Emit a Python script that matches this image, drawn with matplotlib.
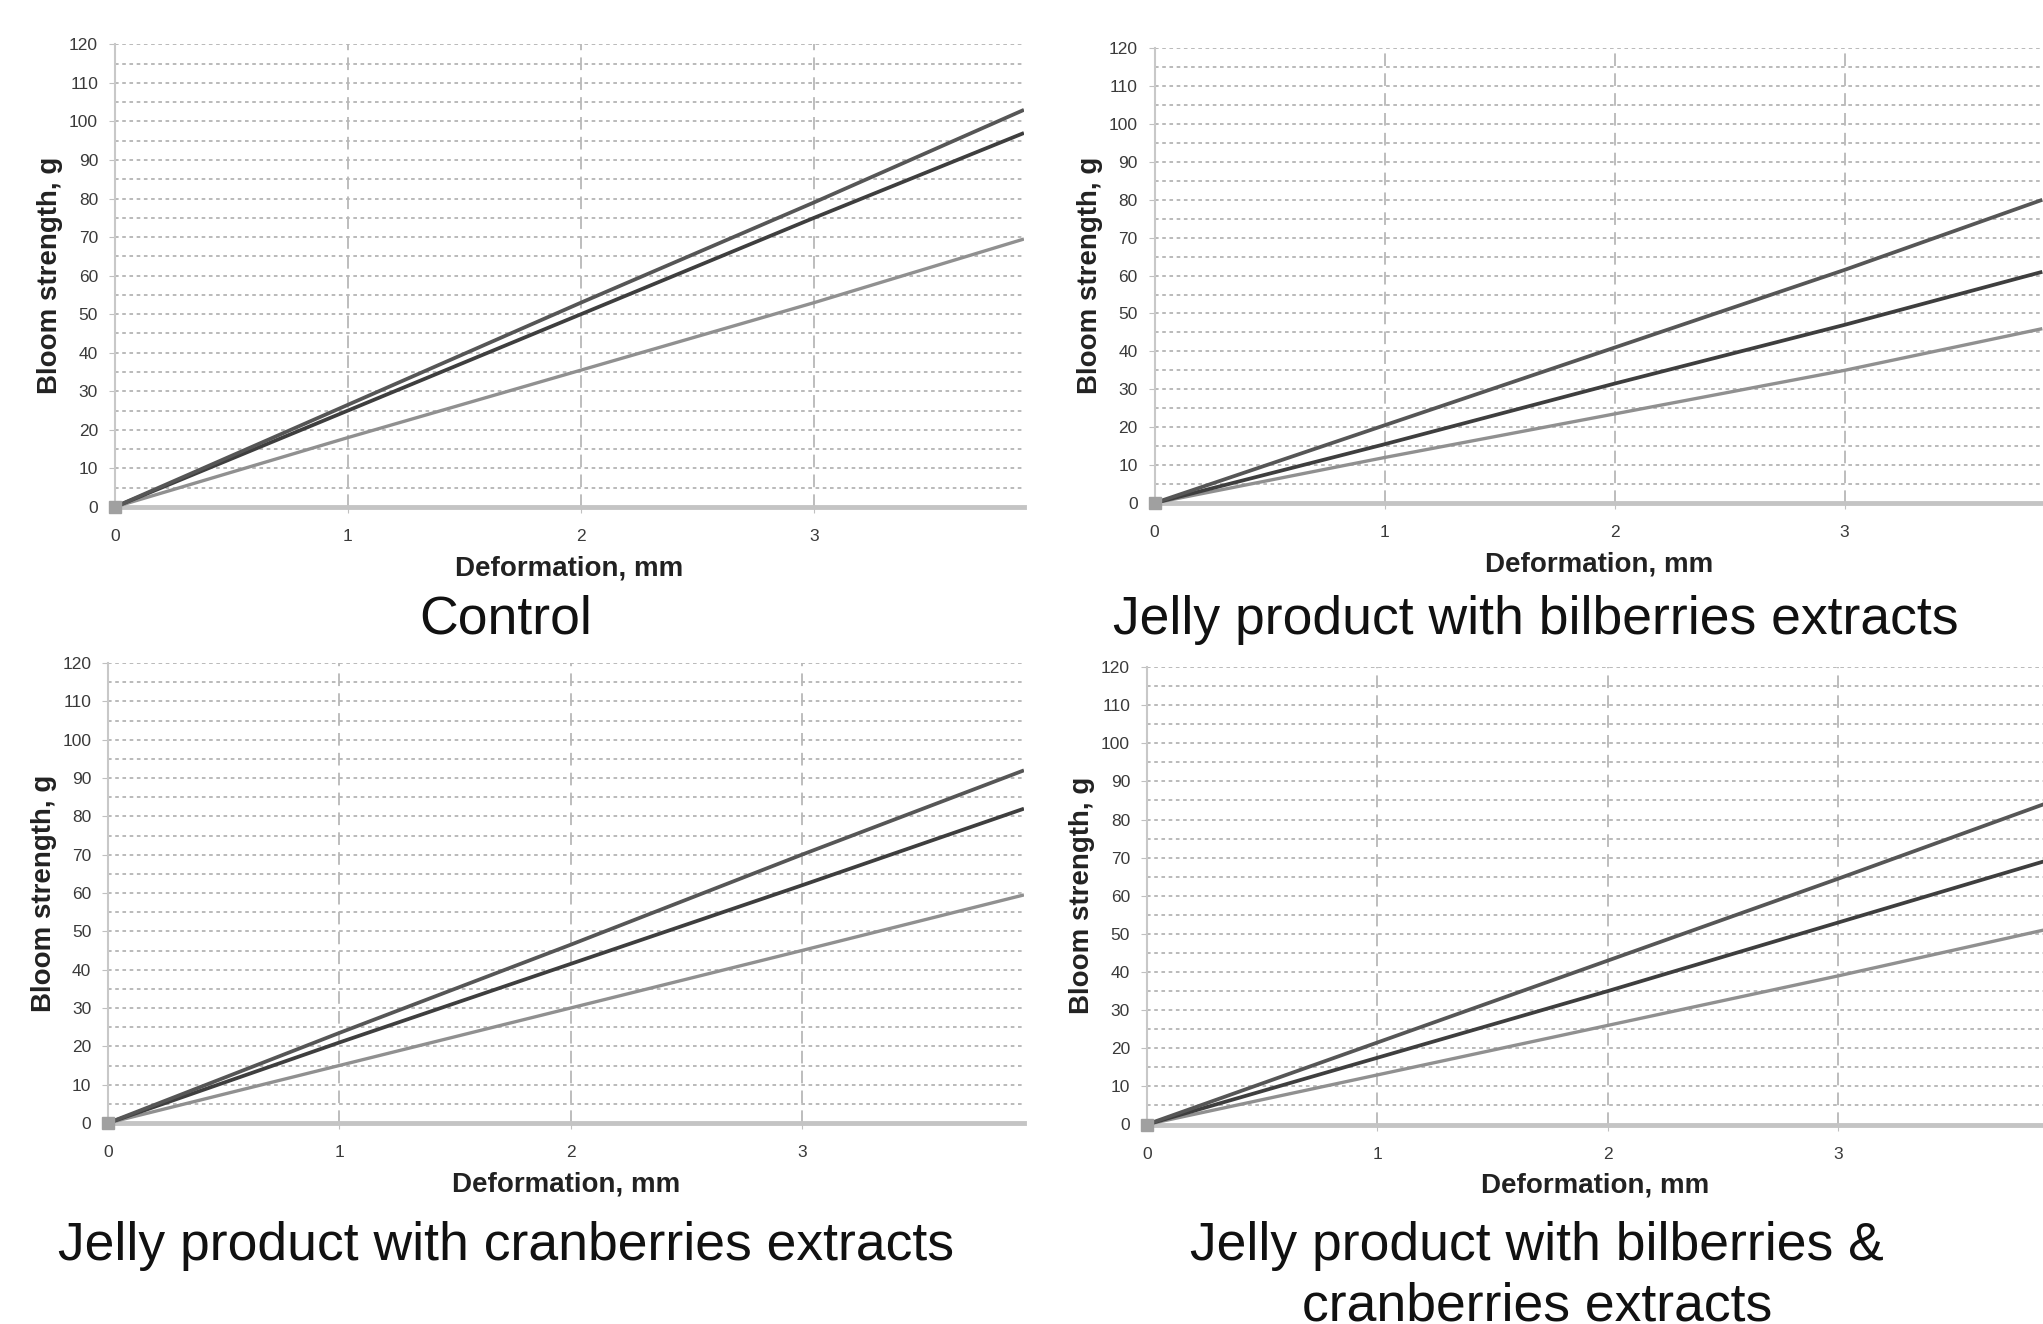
import matplotlib
matplotlib.use("Agg")
import matplotlib.pyplot as plt
from matplotlib import font_manager as fm
import numpy as np

# ---------------- data ----------------
titles = ["Control",
          "Jelly product with bilberries extracts",
          "Jelly product with cranberries extracts",
          "Jelly product with bilberries &\ncranberries extracts"]

control_x = [0, 1, 2, 3, 3.9]
control_top = [0, 26.5, 53, 79, 103]
control_mid = [0, 25, 50, 75, 97]
control_low = [0, 18, 35.5, 53, 69.5]

bil_x = [0, 1, 2, 3, 3.86]
bil_top = [0, 20.5, 41, 61.5, 80]
bil_mid = [0, 15.5, 31.5, 47, 61]
bil_low = [0, 12, 23.5, 35, 46]

cran_x = [0, 1, 2, 3, 3.96]
cran_top = [0, 23.5, 46.5, 70, 92]
cran_mid = [0, 21, 41.5, 62, 82]
cran_low = [0, 15, 30, 45, 59.5]

both_x = [0, 1, 2, 3, 3.89]
both_top = [0, 21.5, 43, 64.5, 84]
both_mid = [0, 17.5, 35, 53, 69]
both_low = [0, 13, 26, 39, 51]

xticks = [0, 1, 2, 3]
yticks = list(range(0, 121, 10))

# ---------------- fonts ----------------
avail = {f.name for f in fm.fontManager.ttflist}
narrow = "Liberation Sans Narrow" if "Liberation Sans Narrow" in avail else "Liberation Sans"
regular = "Liberation Sans"

W, H = 2043, 1324
fig = plt.figure(figsize=(W / 100, H / 100), dpi=100)
fig.patch.set_facecolor("white")

# axes rectangles in pixels: (left, right, y_of_0, y_of_120), xmax
rects = [
    (114.7, 2043 * 0.5012, 507, 44.3, 3.90),
    (1154.5, 2043, 503, 48.2, 3.863),
    (108, 2043 * 0.5012, 1123, 663, 3.96),
    (1146.7, 2043, 1124.5, 667, 3.887),
]
panels = [
    (control_x, control_top, control_mid, control_low),
    (bil_x, bil_top, bil_mid, bil_low),
    (cran_x, cran_top, cran_mid, cran_low),
    (both_x, both_top, both_mid, both_low),
]
caption_pos = [(506, 620), (1536, 620), (506, 1246), (1537, 1276)]

col_top = "#565656"
col_mid = "#3e3e3e"
col_low = "#909090"

for i, ((l, r, y0, y1, xmax), (xs, top, mid, low)) in enumerate(zip(rects, panels)):
    ax = fig.add_axes([l / W, 1 - y0 / H, (r - l) / W, (y0 - y1) / H])
    ax.set_xlim(0, xmax)
    ax.set_ylim(0, 120)
    # grid
    for yy in np.arange(5, 121, 5):
        ax.axhline(yy, color="#b4b4b4", lw=1.3, ls=(0, (2, 2)), zorder=1)
    for xx in [1, 2, 3]:
        ax.axvline(xx, color="#b8b8b8", lw=1.3, ls=(0, (7, 4)), zorder=1)
    ax.plot(xs, low, color=col_low, lw=2.4, zorder=3, solid_capstyle="butt")
    ax.plot(xs, mid, color=col_mid, lw=2.7, zorder=4, solid_capstyle="butt")
    ax.plot(xs, top, color=col_top, lw=2.7, zorder=4, solid_capstyle="butt")
    ax.plot([0], [0], marker="s", ms=9, color="#a0a0a0", zorder=5, clip_on=False)

    for s in ["top", "right"]:
        ax.spines[s].set_visible(False)
    ax.spines["left"].set_color("#c8c8c8")
    ax.spines["left"].set_linewidth(1.5)
    ax.spines["bottom"].set_color("#c4c4c4")
    ax.spines["bottom"].set_linewidth(3.5)

    ax.set_xticks(xticks)
    ax.set_yticks(yticks)
    ax.tick_params(axis="both", length=4, color="#c0c0c0", labelcolor="#3a3a3a",
                   labelsize=12.5)
    ax.tick_params(axis="y", pad=8)
    ax.tick_params(axis="x", pad=12)
    for t in ax.get_xticklabels() + ax.get_yticklabels():
        t.set_family(narrow)

    ax.set_xlabel("Deformation, mm", fontsize=20, fontweight="bold", family=narrow,
                  color="#222222", labelpad=8)
    ax.set_ylabel("Bloom strength, g", fontsize=20, fontweight="bold", family=regular,
                  color="#222222", labelpad=4)

    cx, cy = caption_pos[i]
    fig.text(cx / W, 1 - cy / H, titles[i], ha="center", va="center",
             fontsize=38.5, family=narrow, color="#111111", linespacing=1.28)

fig.savefig("out.png", dpi=100, facecolor="white")
